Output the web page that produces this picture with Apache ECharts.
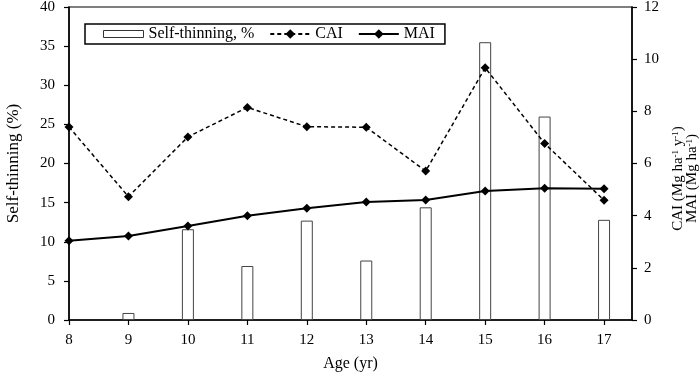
<!DOCTYPE html>
<html>
<head>
<meta charset="utf-8">
<script src="https://cdn.jsdelivr.net/npm/echarts@6/dist/echarts.min.js"></script>
<style>html,body{margin:0;padding:0;background:#fff}#c{width:700px;height:374px}</style>
</head>
<body>
<div id="c"></div>
<script>
var ages = [8, 9, 10, 11, 12, 13, 14, 15, 16, 17];
var selfThinning = [null, 0.9, 11.6, 6.9, 12.7, 7.6, 14.4, 35.5, 26.0, 12.8];
var cai = [7.4, 4.73, 7.02, 8.15, 7.41, 7.39, 5.71, 9.67, 6.77, 4.59];
var mai = [3.04, 3.22, 3.60, 4.0, 4.28, 4.52, 4.6, 4.95, 5.05, 5.03];
var leftTicks = [0, 5, 10, 15, 20, 25, 30, 35, 40];
var rightTicks = [0, 2, 4, 6, 8, 10, 12];

var FONT = 'Liberation Serif';
function pairs(vals) {
  var out = [];
  for (var i = 0; i < ages.length; i++) if (vals[i] != null) out.push([ages[i], vals[i]]);
  return out;
}
var chart = echarts.init(document.getElementById('c'));
var axisLine = { show: true, lineStyle: { color: '#000', width: 1.5 } };
var axisTick = { show: true, length: 5, lineStyle: { color: '#000', width: 1.2 } };
var axisLabel = { color: '#000', fontFamily: FONT, fontSize: 15 };
chart.setOption({
  animation: false,
  backgroundColor: '#fff',
  grid: { left: 69, right: 68, top: 7, bottom: 54, show: true, borderColor: '#000', borderWidth: 1.2,
          containLabel: false, outerBoundsMode: 'none' },
  legend: {
    left: 85, top: 24,
    padding: [2, 10, 2, 18],
    borderColor: '#000', borderWidth: 1.5,
    itemWidth: 40, itemHeight: 12, itemGap: 15,
    textStyle: { color: '#000', fontFamily: FONT, fontSize: 16 },
    data: [
      { name: 'Self-thinning, %', icon: 'path://M0,0H40V7H0Z', itemStyle: { color: '#fff', borderColor: '#333', borderWidth: 1 } },
      { name: 'CAI' },
      { name: 'MAI' }
    ]
  },
  xAxis: {
    type: 'value',
    min: ages[0], max: ages[ages.length - 1] + 0.47,
    interval: 1,
    splitLine: { show: false },
    axisLine: axisLine,
    axisTick: Object.assign({ customValues: ages }, axisTick),
    axisLabel: Object.assign({ customValues: ages, margin: 13 }, axisLabel),
    name: 'Age (yr)', nameLocation: 'middle', nameGap: 36,
    nameTextStyle: { color: '#000', fontFamily: FONT, fontSize: 16 }
  },
  yAxis: [{
    type: 'value',
    min: leftTicks[0], max: leftTicks[leftTicks.length - 1], interval: leftTicks[1] - leftTicks[0],
    splitLine: { show: false },
    axisLine: axisLine, axisTick: axisTick,
    axisLabel: Object.assign({ margin: 14 }, axisLabel),
    name: 'Self-thinning (%)', nameLocation: 'middle', nameGap: 47, nameRotate: 90,
    nameTextStyle: { color: '#000', fontFamily: FONT, fontSize: 17 }
  }, {
    type: 'value', position: 'right',
    min: rightTicks[0], max: rightTicks[rightTicks.length - 1], interval: rightTicks[1] - rightTicks[0],
    splitLine: { show: false },
    axisLine: axisLine, axisTick: axisTick,
    axisLabel: Object.assign({ margin: 12 }, axisLabel),
    name: '{n|CAI (Mg ha}{s|-1}{n| y}{s|-1}{n|)}\n{n|MAI (Mg ha}{s|-1}{n|)}',
    nameLocation: 'middle', nameGap: 39, nameRotate: 90,
    nameTextStyle: {
      color: '#000', fontFamily: FONT, fontSize: 15, padding: [0, 30, 0, 0],
      rich: {
        n: { color: '#000', fontFamily: FONT, fontSize: 15, lineHeight: 14 },
        s: { color: '#000', fontFamily: FONT, fontSize: 9, lineHeight: 7, verticalAlign: 'top' }
      }
    }
  }],
  series: [{
    name: 'Self-thinning, %', type: 'bar', yAxisIndex: 0,
    data: pairs(selfThinning), barWidth: 12,
    itemStyle: { color: '#fff', borderColor: '#444', borderWidth: 1 }
  }, {
    name: 'CAI', type: 'line', yAxisIndex: 1, z: 5,
    data: pairs(cai),
    symbol: 'diamond', symbolSize: 9,
    itemStyle: { color: '#000' },
    lineStyle: { color: '#000', width: 1.5, type: [4, 3] }
  }, {
    name: 'MAI', type: 'line', yAxisIndex: 1, z: 5,
    data: pairs(mai),
    symbol: 'diamond', symbolSize: 9,
    itemStyle: { color: '#000' },
    lineStyle: { color: '#000', width: 2 }
  }]
});
</script>
</body>
</html>
